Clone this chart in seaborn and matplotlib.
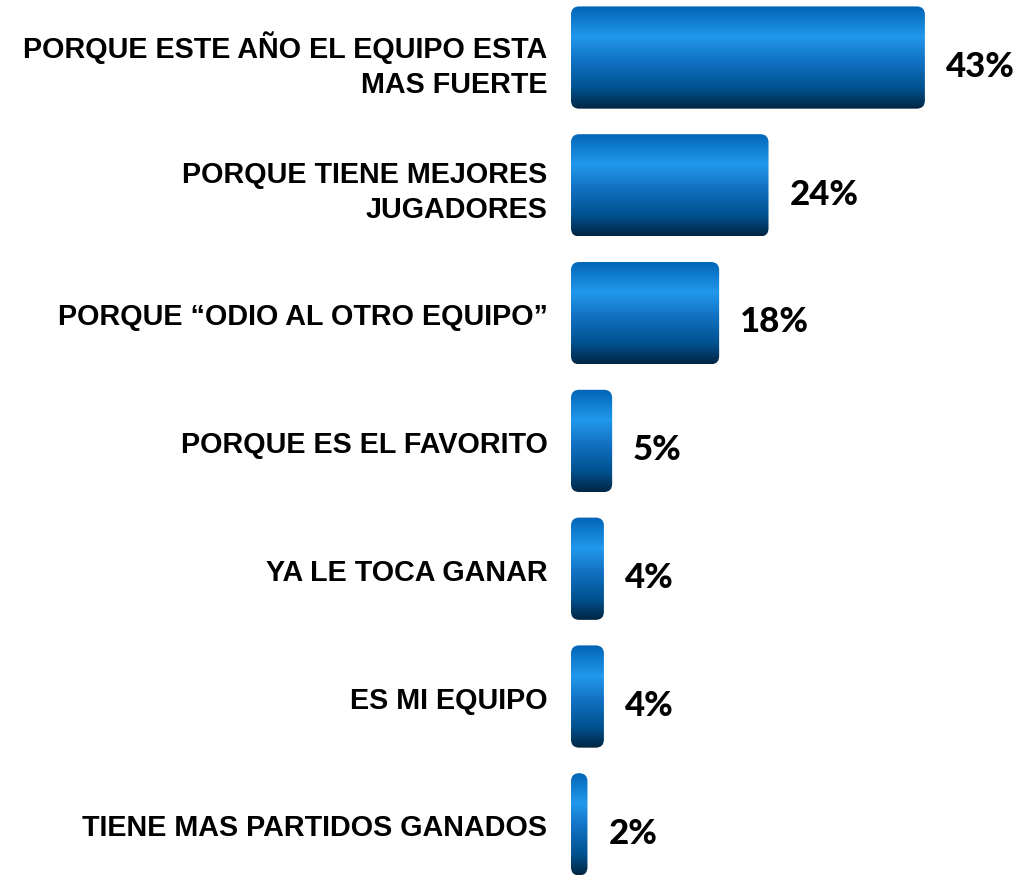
import numpy as np
import pandas as pd
import matplotlib
matplotlib.use("Agg")
import matplotlib.pyplot as plt
from matplotlib.colors import LinearSegmentedColormap
from matplotlib.patches import FancyBboxPatch
import seaborn as sns

# reasons and percentages
razones = [
    "PORQUE ESTE AÑO EL EQUIPO ESTA\nMAS FUERTE",
    "PORQUE TIENE MEJORES\nJUGADORES",
    "PORQUE “ODIO AL OTRO EQUIPO”",
    "PORQUE ES EL FAVORITO",
    "YA LE TOCA GANAR",
    "ES MI EQUIPO",
    "TIENE MAS PARTIDOS GANADOS",
]
porcentajes = [43, 24, 18, 5, 4, 4, 2]
etiquetas = ["43%", "24%", "18%", "5%", "4%", "4%", "2%"]

df = pd.DataFrame({"razon": razones, "pct": porcentajes})

sns.set_style("white")
plt.rcParams["font.family"] = ["Liberation Sans", "DejaVu Sans"]

fig = plt.figure(figsize=(10.28, 8.79), dpi=100)
ax = fig.add_axes([571 / 1028, 0, 457 / 1028, 1])

sns.barplot(data=df, x="pct", y="razon", orient="h", color="#0a6cc0", width=0.8, ax=ax)

xmax = 457 / 8.23
ymin, ymax = 6.42, -0.458
ax.set_xlim(0, xmax)
ax.set_ylim(ymin, ymax)

# cylinder-like vertical shading
cmap = LinearSegmentedColormap.from_list(
    "cyl",
    [(0.0, "#0064b6"), (0.3, "#2298ec"), (0.52, "#1274c6"),
     (0.8, "#00518f"), (1.0, "#002642")],
)
grad = np.linspace(0, 1, 256).reshape(-1, 1)
aspect = (1 / 127.8) / (1 / 8.23)

for p in list(ax.patches):
    x0, y0 = p.get_x(), p.get_y()
    w, h = p.get_width(), p.get_height()
    p.set_visible(False)
    r = min(1.0, w / 2)
    clip = FancyBboxPatch((x0, y0), w, h,
                          boxstyle=f"round,pad=0,rounding_size={r}",
                          mutation_aspect=aspect,
                          facecolor="none", edgecolor="none",
                          transform=ax.transData)
    ax.add_patch(clip)
    im = ax.imshow(grad, cmap=cmap, aspect="auto", origin="upper",
                   extent=(x0, x0 + w, y0 + h, y0), interpolation="bilinear",
                   zorder=2)
    im.set_clip_path(clip)

ax.set_xlim(0, xmax)
ax.set_ylim(ymin, ymax)

for i, (v, t) in enumerate(zip(porcentajes, etiquetas)):
    ax.annotate(t, xy=(v, i), xytext=(15, -6), textcoords="offset points",
                ha="left", va="center", fontsize=25, fontweight=900,
                family=["Lato", "DejaVu Sans"], color="black")

ax.set_yticks(range(len(razones)))
ax.set_yticklabels(razones, fontsize=20.7, fontweight="bold", color="black",
                   multialignment="right", linespacing=1.3)
ax.tick_params(axis="y", length=0, pad=17)
ax.set_xticks([])
ax.set_xlabel("")
ax.set_ylabel("")
sns.despine(ax=ax, top=True, right=True, left=True, bottom=True)

fig.savefig("out.png", dpi=100)
